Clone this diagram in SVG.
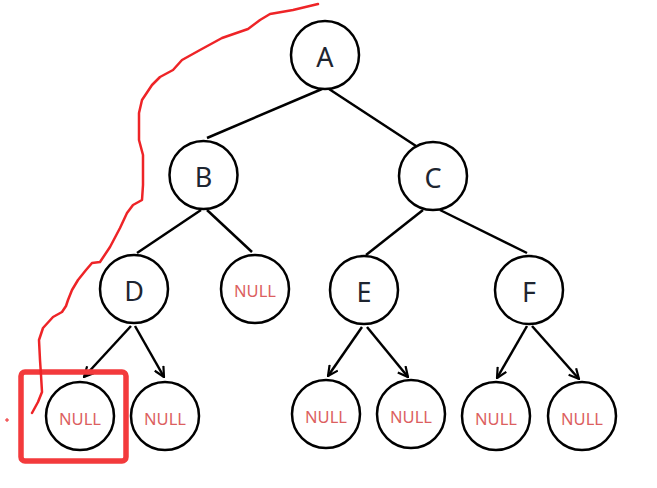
<svg xmlns="http://www.w3.org/2000/svg" width="657" height="488" viewBox="0 0 657 488">
<defs>
<style>
.n circle{fill:#fff;stroke:#000;stroke-width:2.5}
.lbl{font-family:"Noto Sans","Open Sans",sans-serif;font-size:27px;fill:#1e2530;text-anchor:middle;dominant-baseline:central}
.nul{font-family:"Noto Sans","Open Sans",sans-serif;font-size:16.5px;fill:#dc5f5f;text-anchor:middle;dominant-baseline:central}
.e{stroke:#000;stroke-width:2.5;fill:none}
.red{stroke:#ee2427;fill:none;stroke-linecap:round;stroke-linejoin:round}
</style>
<marker id="ah" viewBox="0 0 12 12" refX="11" refY="6" markerWidth="12" markerHeight="12" markerUnits="userSpaceOnUse" orient="auto">
<path d="M1,1 L11,6 L1,11" fill="none" stroke="#000" stroke-width="2.2"/>
</marker>
</defs>
<rect width="657" height="488" fill="#fff"/>
<g id="connectors">
<line class="e" x1="322" y1="89" x2="207" y2="138"/>
<line class="e" x1="329" y1="89" x2="416" y2="146"/>
<line class="e" x1="201" y1="210" x2="137" y2="253"/>
<line class="e" x1="207" y1="210" x2="252" y2="252"/>
<line class="e" x1="423" y1="210" x2="366" y2="255"/>
<line class="e" x1="440" y1="210" x2="527" y2="253"/>
<line class="e" x1="131" y1="326" x2="84" y2="377" marker-end="url(#ah)"/>
<line class="e" x1="135" y1="326" x2="164" y2="377" marker-end="url(#ah)"/>
<line class="e" x1="362" y1="327" x2="328" y2="376" marker-end="url(#ah)"/>
<line class="e" x1="367" y1="327" x2="408" y2="377" marker-end="url(#ah)"/>
<line class="e" x1="527" y1="326" x2="497" y2="378" marker-end="url(#ah)"/>
<line class="e" x1="532" y1="326" x2="579" y2="379" marker-end="url(#ah)"/>
</g>
<g id="nA" class="n"><circle cx="325" cy="55" r="34"/><text class="lbl" x="325" y="56">A</text></g>
<g id="nB" class="n"><circle cx="203.5" cy="175" r="34"/><text class="lbl" x="203.5" y="176">B</text></g>
<g id="nC" class="n"><circle cx="433" cy="176" r="34"/><text class="lbl" x="433" y="177">C</text></g>
<g id="nD" class="n"><circle cx="134" cy="289" r="34"/><text class="lbl" x="134" y="290">D</text></g>
<g id="nBnull" class="n"><circle cx="255" cy="289" r="34"/><text class="nul" x="255" y="290">NULL</text></g>
<g id="nE" class="n"><circle cx="364" cy="290" r="34"/><text class="lbl" x="364" y="291">E</text></g>
<g id="nF" class="n"><circle cx="529" cy="290" r="34"/><text class="lbl" x="529" y="291">F</text></g>
<g id="nDnull1" class="n"><circle cx="80" cy="416" r="34"/><text class="nul" x="80" y="418">NULL</text></g>
<g id="nDnull2" class="n"><circle cx="165" cy="416" r="34"/><text class="nul" x="165" y="418">NULL</text></g>
<g id="nEnull1" class="n"><circle cx="326" cy="414" r="34"/><text class="nul" x="326" y="416">NULL</text></g>
<g id="nEnull2" class="n"><circle cx="411" cy="414" r="34"/><text class="nul" x="411" y="416">NULL</text></g>
<g id="nFnull1" class="n"><circle cx="496" cy="416" r="34"/><text class="nul" x="496" y="418">NULL</text></g>
<g id="nFnull2" class="n"><circle cx="582" cy="416" r="34"/><text class="nul" x="582" y="418">NULL</text></g>
<g id="highlight">
<rect x="21" y="372" width="105" height="89" rx="4" fill="none" stroke="#f33a3c" stroke-width="5.5"/>
<path class="red" stroke-width="2.5" d="M32,413 L38,402 L42,392 L41,375 L40,360 L39,340 L43,328 L53,317 L62,312 L66,306 L68,300 L72,290 L78,280 L86,270 L92,263 L100,262 L110,247 L120,228 L127,213 L133,205 L142,200 L143,185 L143,155 L139,140 L139,113 L142,100 L152,85 L160,77 L173,70 L182,60 L200,50 L222,38 L248,29 L260,20 L270,14 L293,10 L318,4"/>
<path d="M5,420 h4 M7,418 v4" stroke="#ee2427" stroke-width="1"/>
</g>
</svg>
